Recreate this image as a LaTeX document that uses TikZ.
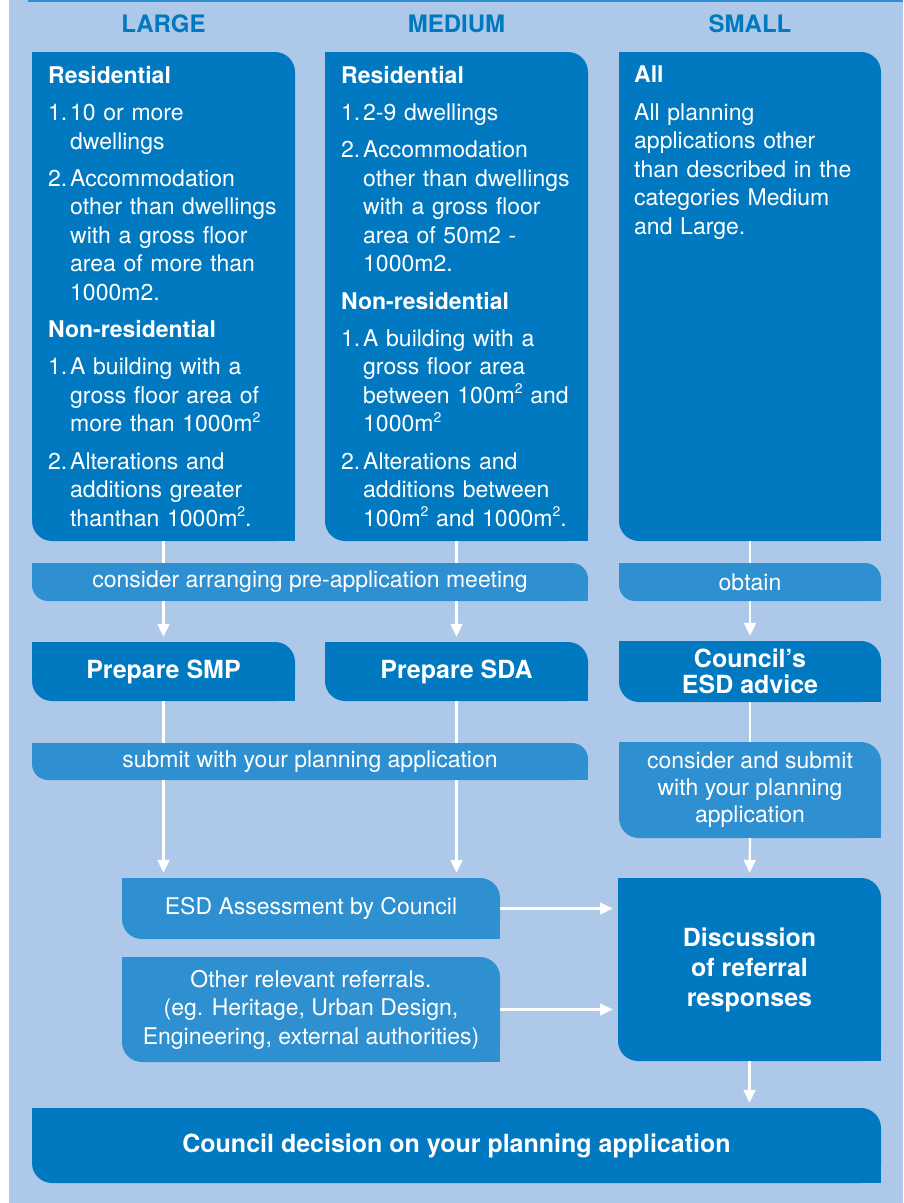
\documentclass[tikz,border=0pt]{standalone}
\usepackage{fontspec}
\setmainfont{TeX Gyre Heros}
\usetikzlibrary{arrows.meta}

\definecolor{bgblue}{HTML}{ADC8E8}
\definecolor{dkblue}{HTML}{0079C1}
\definecolor{ltblue}{HTML}{2E90D1}

\newcommand{\itm}[2]{\par\vspace{8.5pt}\hangindent=22pt\hangafter=1\noindent\makebox[22pt][l]{#1}#2\par}
\newcommand{\hd}[1]{\par\vspace{8.5pt}\noindent\textbf{#1}\par}
\newcommand{\sqm}{\raisebox{0.42em}{\fontsize{14}{14}\selectfont 2}}

\begin{document}
\begin{tikzpicture}[x=1pt, y=-1pt,
	bigbox/.style={fill=dkblue, rounded corners=20pt, inner sep=0pt, text=white, align=center, font=\bfseries\fontsize{25}{26}\selectfont},
	lightbox/.style={fill=ltblue, rounded corners=20pt, inner sep=0pt, text=white, align=center, font=\fontsize{23}{27}\selectfont},
	band/.style={lightbox, rounded corners=16pt},
	listtxt/.style={text=white, text width=260pt, align=left, inner sep=0pt, anchor=north west, font=\fontsize{23}{28.6}\selectfont},
	colhead/.style={text=dkblue, font=\bfseries\fontsize{24}{24}\selectfont},
	link/.style={draw=white, line width=2.2pt},
	flow/.style={link, -{Triangle[length=13pt,width=12pt]}, shorten >=5pt}]
	\useasboundingbox (0,0) rectangle (903,1203);
	\fill[bgblue] (9,0) rectangle (903,1203);
	\fill[ltblue] (28,0) rectangle (903,2);
	\node[colhead] (hlarge) at (163.5,24) {LARGE};
	\node[colhead] (hmedium) at (456.5,24) {MEDIUM};
	\node[colhead] (hsmall) at (750,24) {SMALL};
	\node[bigbox, minimum width=263pt, minimum height=489pt] (large) at (163.5,296.5) {};
	\node[bigbox, minimum width=263pt, minimum height=489pt] (medium) at (456.5,296.5) {};
	\node[bigbox, minimum width=262pt, minimum height=489pt] (small) at (750,296.5) {};
	\node[band, minimum width=556pt, minimum height=38pt] (pre) at (310,582) {consider arranging pre-application meeting};
	\node[band, minimum width=262pt, minimum height=38pt] (obtain) at (750,582) {obtain};
	\node[bigbox, minimum width=263pt, minimum height=59pt] (smp) at (163.5,671.5) {Prepare SMP};
	\node[bigbox, minimum width=263pt, minimum height=59pt] (sda) at (456.5,671.5) {Prepare SDA};
	\node[bigbox, minimum width=262pt, minimum height=61pt] (advice) at (750,671.5) {Council’s\\ESD advice};
	\node[band, minimum width=556pt, minimum height=37pt] (submit) at (310,761.5) {submit with your planning application};
	\node[lightbox, minimum width=262pt, minimum height=96pt] (consider) at (750,790) {consider and submit\\with your planning\\application};
	\node[lightbox, minimum width=378pt, minimum height=61pt] (esd) at (311,908.5) {ESD Assessment by Council};
	\node[lightbox, minimum width=378pt, minimum height=105pt, font=\fontsize{23}{28.5}\selectfont] (other) at (311,1009.5) {Other relevant referrals.\\(eg. Heritage, Urban Design,\\Engineering, external authorities)};
	\node[bigbox, minimum width=263pt, minimum height=183pt, font=\bfseries\fontsize{25}{30}\selectfont] (discuss) at (749.5,969.5) {Discussion\\of referral\\responses};
	\node[bigbox, minimum width=849pt, minimum height=75pt] (decision) at (456.5,1145.5) {Council decision on your planning application};
	\foreach \n in {large,medium,small,smp,sda,advice,discuss,decision}
		{\fill[dkblue] (\n.north west) rectangle ++(20,20);
		 \fill[dkblue] (\n.south east) rectangle ++(-20,-20);}
	\foreach \n in {consider,esd,other}
		{\fill[ltblue] (\n.north west) rectangle ++(20,20);
		 \fill[ltblue] (\n.south east) rectangle ++(-20,-20);}
	\foreach \n in {pre,obtain,submit}
		{\fill[ltblue] (\n.north west) rectangle ++(16,16);
		 \fill[ltblue] (\n.south east) rectangle ++(-16,-16);}
	\node[listtxt] (largetxt) at (48,66) {\noindent\textbf{Residential}\par
		\itm{1.}{10 or more\newline dwellings}
		\itm{2.}{Accommodation\newline other than dwellings\newline with a gross floor\newline area of more than\newline 1000m2.}
		\hd{Non-residential}
		\itm{1.}{A building with a\newline gross floor area of\newline more than 1000m\sqm}
		\itm{2.}{Alterations and\newline additions greater\newline thanthan 1000m\sqm.}};
	\node[listtxt] (mediumtxt) at (341,66) {\noindent\textbf{Residential}\par
		\itm{1.}{2-9 dwellings}
		\itm{2.}{Accommodation\newline other than dwellings\newline with a gross floor\newline area of 50m2 -\newline 1000m2.}
		\hd{Non-residential}
		\itm{1.}{A building with a\newline gross floor area\newline between 100m\sqm{} and\newline 1000m\sqm}
		\itm{2.}{Alterations and\newline additions between\newline 100m\sqm{} and 1000m\sqm.}};
	\node[listtxt] (smalltxt) at (634,66) {\noindent\textbf{All}\par\vspace{8.5pt}
		\noindent All planning\newline applications other\newline than described in the\newline categories Medium\newline and Large.};
	\draw[link] (large.south) -- (large.south |- pre.north);
	\draw[flow] (large.south |- pre.south) -- (smp.north);
	\draw[link] (medium.south) -- (medium.south |- pre.north);
	\draw[flow] (medium.south |- pre.south) -- (sda.north);
	\draw[link] (small.south) -- (obtain.north);
	\draw[flow] (obtain.south) -- (advice.north);
	\draw[link] (smp.south) -- (smp.south |- submit.north);
	\draw[link] (sda.south) -- (sda.south |- submit.north);
	\draw[flow] (smp.south |- submit.south) -- (smp.south |- esd.north);
	\draw[flow] (sda.south |- submit.south) -- (sda.south |- esd.north);
	\draw[link] (advice.south) -- (consider.north);
	\draw[flow] (consider.south) -- (discuss.north);
	\draw[flow] (esd.east) -- (esd.east -| discuss.west);
	\draw[flow] (other.east) -- (other.east -| discuss.west);
	\draw[flow] (discuss.south) -- (discuss.south |- decision.north);
\end{tikzpicture}
\end{document}
